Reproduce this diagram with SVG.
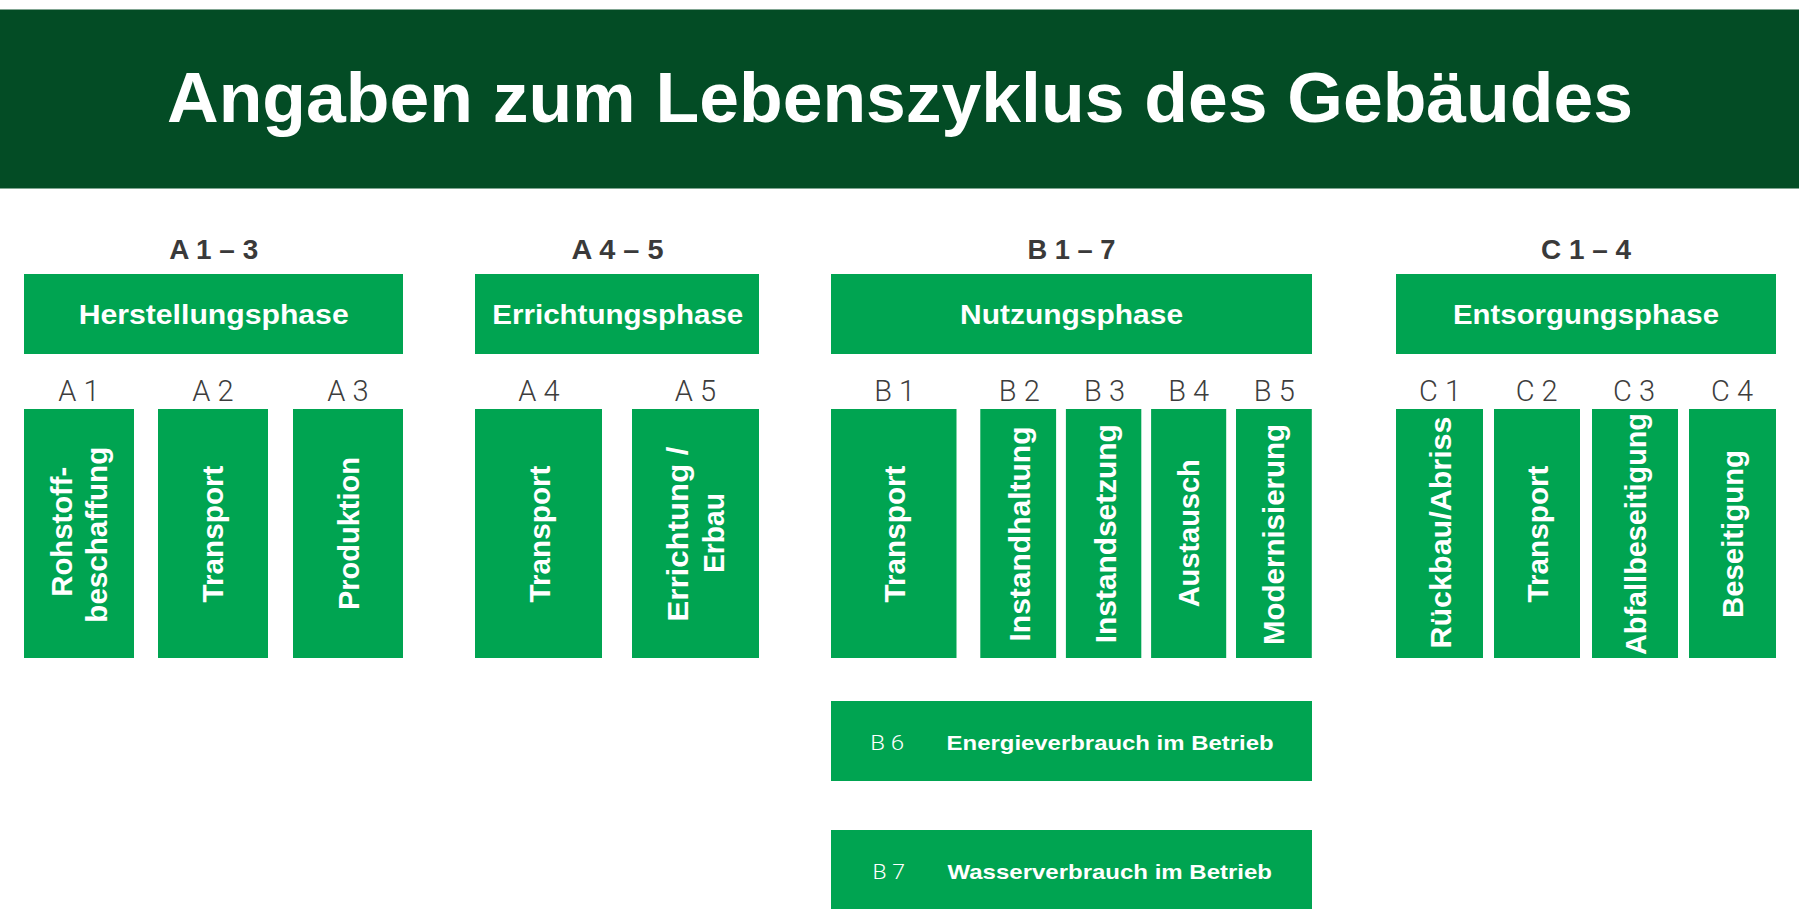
<svg xmlns="http://www.w3.org/2000/svg" width="1800" height="909" viewBox="0 0 1800 909">
<style>
.band{fill:#034c25}
.box{fill:#00a451}
.title{font-family:"Liberation Sans",Arial,sans-serif;font-weight:bold;font-size:70px;fill:#ffffff;text-anchor:middle}
.grp{font-family:"Liberation Sans",Arial,sans-serif;font-weight:bold;font-size:28px;fill:#3a3a3a;text-anchor:middle}
.phase{font-family:"Liberation Sans",Arial,sans-serif;font-weight:bold;font-size:28px;fill:#ffffff;text-anchor:middle}
.lbl{font-family:Roboto,"Liberation Sans",Arial,sans-serif;font-weight:300;font-size:29px;fill:#3d3d3d;text-anchor:middle}
.vt{font-family:"Liberation Sans",Arial,sans-serif;font-weight:bold;font-size:30px;fill:#ffffff;text-anchor:middle}
.rl{font-family:Roboto,"Liberation Sans",Arial,sans-serif;font-weight:300;font-size:21px;fill:#ffffff}
.rt{font-family:"Liberation Sans",Arial,sans-serif;font-weight:bold;font-size:21px;fill:#ffffff}
</style>
<g id="header">
<rect class="band" x="0" y="9.5" width="1799" height="179"/>
<text class="title" x="900" y="121.5" textLength="1466" lengthAdjust="spacingAndGlyphs">Angaben zum Lebenszyklus des Gebäudes</text>
</g>
<g id="group-labels">
<text class="grp" x="213.7" y="259.3" textLength="89" lengthAdjust="spacingAndGlyphs">A 1 – 3</text>
<text class="grp" x="617.5" y="259.3" textLength="92" lengthAdjust="spacingAndGlyphs">A 4 – 5</text>
<text class="grp" x="1071.5" y="259.3" textLength="88" lengthAdjust="spacingAndGlyphs">B 1 – 7</text>
<text class="grp" x="1586" y="259.3" textLength="90" lengthAdjust="spacingAndGlyphs">C 1 – 4</text>
</g>
<g id="phase-herstellung">
<rect class="box" x="24" y="274" width="379" height="80"/>
<text class="phase" x="213.7" y="324" textLength="270" lengthAdjust="spacingAndGlyphs">Herstellungsphase</text>
</g>
<g id="phase-errichtung">
<rect class="box" x="475" y="274" width="284" height="80"/>
<text class="phase" x="617.8" y="324" textLength="251" lengthAdjust="spacingAndGlyphs">Errichtungsphase</text>
</g>
<g id="phase-nutzung">
<rect class="box" x="831" y="274" width="481" height="80"/>
<text class="phase" x="1071.6" y="324" textLength="223" lengthAdjust="spacingAndGlyphs">Nutzungsphase</text>
</g>
<g id="phase-entsorgung">
<rect class="box" x="1396" y="274" width="380" height="80"/>
<text class="phase" x="1586" y="324" textLength="266" lengthAdjust="spacingAndGlyphs">Entsorgungsphase</text>
</g>
<g id="A1">
<text class="lbl" x="79" y="401">A 1</text>
<rect class="box" x="24" y="409" width="110" height="249"/>
<text class="vt" transform="translate(71.7,531.7) rotate(-90)" textLength="130" lengthAdjust="spacingAndGlyphs">Rohstoff-</text>
<text class="vt" transform="translate(107.3,534.7) rotate(-90)" textLength="176" lengthAdjust="spacingAndGlyphs">beschaffung</text>
</g>
<g id="A2">
<text class="lbl" x="213" y="401">A 2</text>
<rect class="box" x="158" y="409" width="110" height="249"/>
<text class="vt" transform="translate(223,534) rotate(-90)" textLength="137" lengthAdjust="spacingAndGlyphs">Transport</text>
</g>
<g id="A3">
<text class="lbl" x="348" y="401">A 3</text>
<rect class="box" x="293" y="409" width="110" height="249"/>
<text class="vt" transform="translate(358.5,533.5) rotate(-90)" textLength="153" lengthAdjust="spacingAndGlyphs">Produktion</text>
</g>
<g id="A4">
<text class="lbl" x="539" y="401">A 4</text>
<rect class="box" x="475" y="409" width="127" height="249"/>
<text class="vt" transform="translate(549.5,534) rotate(-90)" textLength="137" lengthAdjust="spacingAndGlyphs">Transport</text>
</g>
<g id="A5">
<text class="lbl" x="695.5" y="401">A 5</text>
<rect class="box" x="632" y="409" width="127" height="249"/>
<text class="vt" transform="translate(688,534) rotate(-90)" textLength="175" lengthAdjust="spacingAndGlyphs">Errichtung /</text>
<text class="vt" transform="translate(724,533) rotate(-90)" textLength="80" lengthAdjust="spacingAndGlyphs">Erbau</text>
</g>
<g id="B1">
<text class="lbl" x="894.7" y="401">B 1</text>
<rect class="box" x="831" y="409" width="125.5" height="249"/>
<text class="vt" transform="translate(904.5,534) rotate(-90)" textLength="137" lengthAdjust="spacingAndGlyphs">Transport</text>
</g>
<g id="B2">
<text class="lbl" x="1019.3" y="401">B 2</text>
<rect class="box" x="980.3" y="409" width="75.8" height="249"/>
<text class="vt" transform="translate(1029.5,534) rotate(-90)" textLength="215" lengthAdjust="spacingAndGlyphs">Instandhaltung</text>
</g>
<g id="B3">
<text class="lbl" x="1104.5" y="401">B 3</text>
<rect class="box" x="1065.9" y="409" width="75.4" height="249"/>
<text class="vt" transform="translate(1116,533.7) rotate(-90)" textLength="219" lengthAdjust="spacingAndGlyphs">Instandsetzung</text>
</g>
<g id="B4">
<text class="lbl" x="1188.7" y="401">B 4</text>
<rect class="box" x="1151.1" y="409" width="75.1" height="249"/>
<text class="vt" transform="translate(1199.2,533.3) rotate(-90)" textLength="148" lengthAdjust="spacingAndGlyphs">Austausch</text>
</g>
<g id="B5">
<text class="lbl" x="1274.3" y="401">B 5</text>
<rect class="box" x="1236" y="409" width="75.8" height="249"/>
<text class="vt" transform="translate(1284,534.5) rotate(-90)" textLength="221" lengthAdjust="spacingAndGlyphs">Modernisierung</text>
</g>
<g id="C1">
<text class="lbl" x="1440" y="401">C 1</text>
<rect class="box" x="1396" y="409" width="87" height="249"/>
<text class="vt" transform="translate(1450.5,532.5) rotate(-90)" textLength="232" lengthAdjust="spacingAndGlyphs">Rückbau/Abriss</text>
</g>
<g id="C2">
<text class="lbl" x="1536.7" y="401">C 2</text>
<rect class="box" x="1494" y="409" width="86" height="249"/>
<text class="vt" transform="translate(1547.5,534) rotate(-90)" textLength="137" lengthAdjust="spacingAndGlyphs">Transport</text>
</g>
<g id="C3">
<text class="lbl" x="1634" y="401">C 3</text>
<rect class="box" x="1592" y="409" width="86" height="249"/>
<text class="vt" transform="translate(1645.5,534) rotate(-90)" textLength="242" lengthAdjust="spacingAndGlyphs">Abfallbeseitigung</text>
</g>
<g id="C4">
<text class="lbl" x="1732" y="401">C 4</text>
<rect class="box" x="1689" y="409" width="87" height="249"/>
<text class="vt" transform="translate(1743,534) rotate(-90)" textLength="168" lengthAdjust="spacingAndGlyphs">Beseitigung</text>
</g>
<g id="B6">
<rect class="box" x="831" y="701" width="481" height="80"/>
<text class="rl" x="870.2" y="750" textLength="34" lengthAdjust="spacingAndGlyphs">B 6</text>
<text class="rt" x="946.6" y="750" textLength="327" lengthAdjust="spacingAndGlyphs">Energieverbrauch im Betrieb</text>
</g>
<g id="B7">
<rect class="box" x="831" y="830" width="481" height="79"/>
<text class="rl" x="872.5" y="879" textLength="32.5" lengthAdjust="spacingAndGlyphs">B 7</text>
<text class="rt" x="947.5" y="879" textLength="324.5" lengthAdjust="spacingAndGlyphs">Wasserverbrauch im Betrieb</text>
</g>
<g id="connectors"></g>
</svg>
